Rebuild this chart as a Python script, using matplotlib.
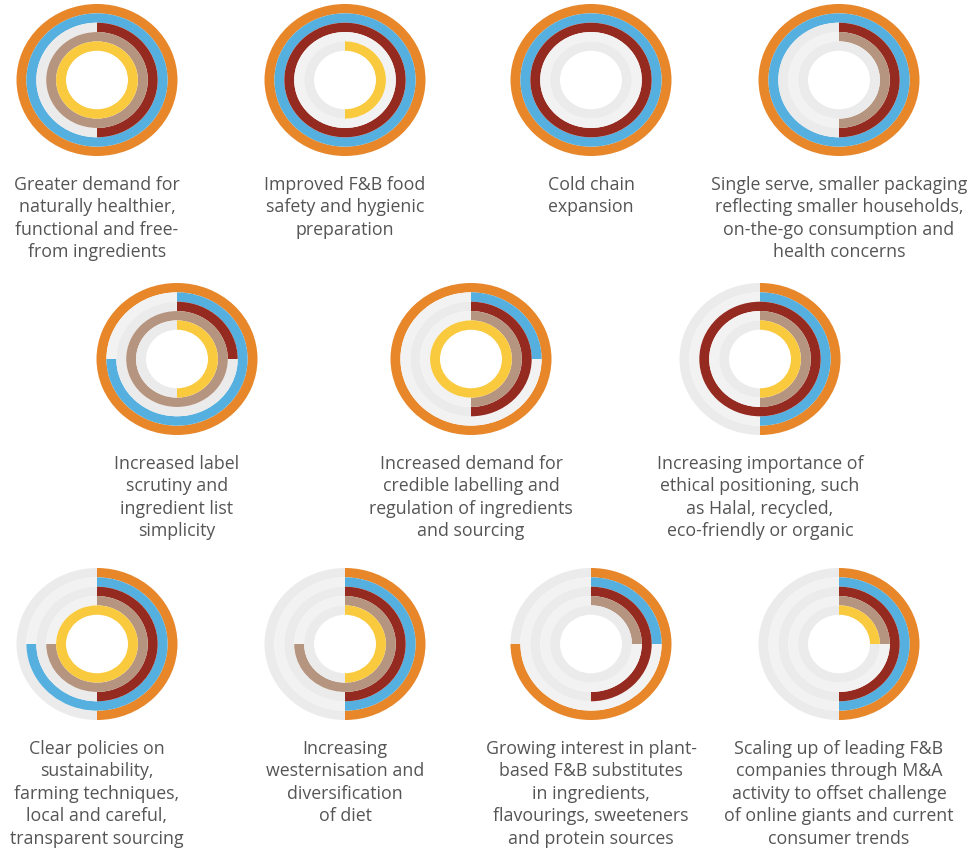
import matplotlib.pyplot as plt

# ring order outer -> inner: orange, blue, dark red, tan, yellow
# values are the filled share of each ring, clockwise from 12 o'clock
orange = [1, 1, 1, 1, 1, 1, 0.5, 0.5, 0.5, 0.75, 0.5]
blue = [1, 1, 1, 1, 0.75, 0.25, 0.5, 0.75, 0.5, 0.25, 0.5]
red = [0.5, 1, 1, 0.5, 0.25, 0.5, 1, 0.5, 0.5, 0.5, 0.5]
tan = [1, 0, 0, 0.5, 1, 0.5, 0.5, 0.75, 0.75, 0.25, 0.25]
yellow = [1, 0.5, 0, 0, 0.5, 1, 0.5, 1, 0.5, 0, 0.25]

labels = [
    'Greater demand for\nnaturally healthier,\nfunctional and free-\nfrom ingredients',
    'Improved F&B food\nsafety and hygienic\npreparation',
    'Cold chain\nexpansion',
    'Single serve, smaller packaging\nreflecting smaller households,\non-the-go consumption and\nhealth concerns',
    'Increased label\nscrutiny and\ningredient list\nsimplicity',
    'Increased demand for\ncredible labelling and\nregulation of ingredients\nand sourcing',
    'Increasing importance of\nethical positioning, such\nas Halal, recycled,\neco-friendly or organic',
    'Clear policies on\nsustainability,\nfarming techniques,\nlocal and careful,\ntransparent sourcing',
    'Increasing\nwesternisation and\ndiversification\nof diet',
    'Growing interest in plant-\nbased F&B substitutes\nin ingredients,\nflavourings, sweeteners\nand protein sources',
    'Scaling up of leading F&B\ncompanies through M&A\nactivity to offset challenge\nof online giants and current\nconsumer trends',
]

# chart centres in pixels (x, y from top)
centers = [(97, 80), (345, 80), (591, 80), (839, 80),
           (177, 359), (471, 359), (760, 359),
           (97, 644), (345, 644), (591, 644), (839, 644)]

colors = ['#E8862A', '#55B0DF', '#952A20', '#B69580', '#F9C93E']
tracks = ['#EBEBEB', '#F2F2F2', '#EBEBEB', '#F2F2F2', '#EBEBEB']

W, H = 975, 850
fig = plt.figure(figsize=(W / 100, H / 100), dpi=100)

hole = 0.385
width = (1 - hole) / 5
rx, ry = 80.5, 76

for i, (cx, cy) in enumerate(centers):
    ax = fig.add_axes([(cx - rx) / W, 1 - (cy + ry) / H, 2 * rx / W, 2 * ry / H])
    vals = [orange[i], blue[i], red[i], tan[i], yellow[i]]
    for k, v in enumerate(vals):
        r = 1 - k * width
        ax.pie([v, 1 - v], colors=[colors[k], tracks[k]], radius=r,
               startangle=90, counterclock=False,
               wedgeprops=dict(width=width, linewidth=0))
    ax.set_aspect('auto')
    ax.set_xlim(-1, 1)
    ax.set_ylim(-1, 1)
    ax.axis('off')
    # caption below the chart
    fig.text(cx / W, 1 - (cy + 96) / H, labels[i], ha='center', va='top',
             fontsize=12.8, family='Open Sans', color='#555555',
             linespacing=1.32)

fig.savefig('out.png', dpi=100, facecolor='white')
